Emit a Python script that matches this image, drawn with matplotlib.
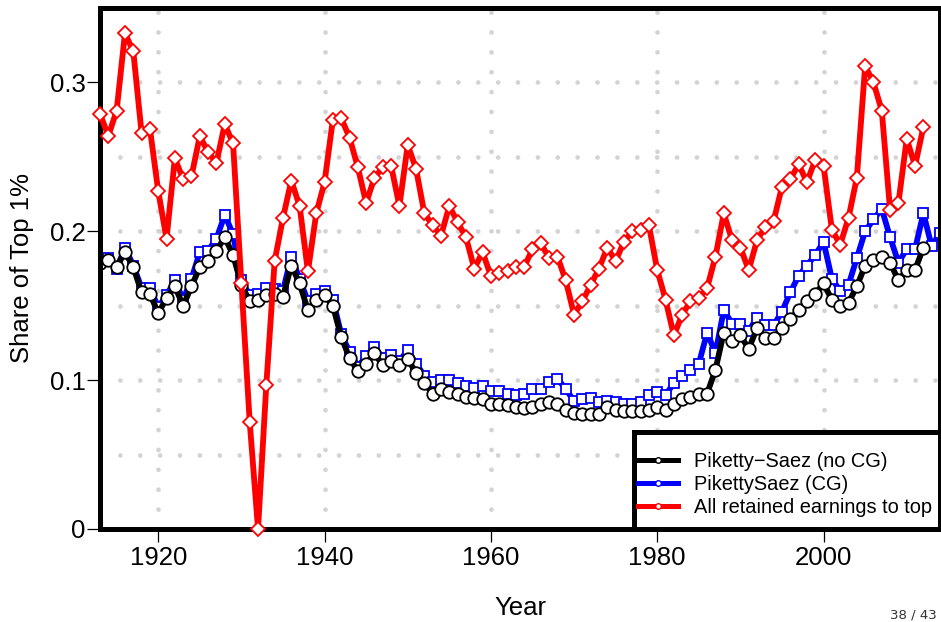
import numpy as np
import matplotlib
matplotlib.use("Agg")
import matplotlib.pyplot as plt
from matplotlib.lines import Line2D
from matplotlib.patches import Rectangle

plt.rcParams['font.family'] = ['Liberation Sans', 'DejaVu Sans']

# share of top 1%, by year
years = list(range(1913, 2013))
years_cg = list(range(1913, 2015))

ps_nocg = [0.179, 0.181, 0.176, 0.186, 0.176, 0.159, 0.158, 0.145, 0.155, 0.163,
           0.150, 0.163, 0.176, 0.180, 0.187, 0.196, 0.184, 0.164, 0.153, 0.154,
           0.157, 0.158, 0.156, 0.177, 0.165, 0.147, 0.154, 0.157, 0.150, 0.129,
           0.115, 0.106, 0.111, 0.118, 0.110, 0.113, 0.110, 0.114, 0.105, 0.098,
           0.091, 0.094, 0.092, 0.091, 0.089, 0.088, 0.087, 0.084, 0.084, 0.083,
           0.082, 0.081, 0.082, 0.084, 0.085, 0.084, 0.080, 0.078, 0.077, 0.077,
           0.077, 0.082, 0.080, 0.079, 0.079, 0.079, 0.080, 0.082, 0.080, 0.084,
           0.087, 0.089, 0.091, 0.091, 0.107, 0.132, 0.126, 0.130, 0.121, 0.135,
           0.128, 0.128, 0.135, 0.141, 0.147, 0.153, 0.158, 0.165, 0.154, 0.150,
           0.152, 0.163, 0.177, 0.181, 0.183, 0.179, 0.167, 0.174, 0.174, 0.189]

ps_cg = [0.180, 0.182, 0.175, 0.189, 0.177, 0.162, 0.162, 0.149, 0.157, 0.167,
         0.154, 0.168, 0.186, 0.187, 0.195, 0.211, 0.198, 0.167, 0.157, 0.158,
         0.162, 0.161, 0.160, 0.183, 0.168, 0.153, 0.158, 0.160, 0.154, 0.131,
         0.119, 0.109, 0.116, 0.122, 0.115, 0.117, 0.113, 0.120, 0.111, 0.103,
         0.099, 0.100, 0.100, 0.098, 0.096, 0.095, 0.096, 0.093, 0.093, 0.091,
         0.090, 0.091, 0.094, 0.094, 0.099, 0.101, 0.094, 0.086, 0.087, 0.088,
         0.085, 0.086, 0.085, 0.084, 0.084, 0.085, 0.090, 0.092, 0.090, 0.098,
         0.103, 0.107, 0.111, 0.132, 0.118, 0.147, 0.138, 0.138, 0.133, 0.142,
         0.137, 0.137, 0.146, 0.159, 0.170, 0.177, 0.184, 0.193, 0.168, 0.160,
         0.164, 0.182, 0.200, 0.208, 0.215, 0.196, 0.179, 0.188, 0.188, 0.212,
         0.190, 0.199]

retained = [0.279, 0.264, 0.281, 0.333, 0.321, 0.266, 0.269, 0.227, 0.195, 0.249,
            0.235, 0.237, 0.264, 0.253, 0.246, 0.272, 0.259, 0.165, 0.072, 0.000,
            0.097, 0.180, 0.209, 0.234, 0.217, 0.173, 0.212, 0.233, 0.275, 0.276,
            0.263, 0.243, 0.219, 0.236, 0.243, 0.244, 0.217, 0.258, 0.242, 0.212,
            0.204, 0.197, 0.217, 0.206, 0.196, 0.175, 0.186, 0.170, 0.172, 0.173,
            0.176, 0.176, 0.188, 0.192, 0.182, 0.183, 0.167, 0.144, 0.153, 0.164,
            0.175, 0.189, 0.180, 0.193, 0.200, 0.201, 0.204, 0.174, 0.154, 0.130,
            0.144, 0.153, 0.155, 0.162, 0.183, 0.212, 0.194, 0.189, 0.174, 0.194,
            0.203, 0.207, 0.230, 0.235, 0.245, 0.233, 0.248, 0.244, 0.201, 0.191,
            0.209, 0.236, 0.311, 0.300, 0.281, 0.214, 0.219, 0.262, 0.244, 0.270]

labels = ["Piketty\u2212Saez (no CG)", "PikettySaez (CG)", "All retained earnings to top"]
xticks = [1920, 1940, 1960, 1980, 2000]
yticks = [0, 0.1, 0.2, 0.3]
ytick_labels = ["0", "0.1", "0.2", "0.3"]

fig = plt.figure(figsize=(9.41, 6.22), dpi=100)
ax = fig.add_axes([100 / 941, 1 - 529 / 622, 840 / 941, 521 / 622])
ax.set_xlim(1913, 2014)
ax.set_ylim(0, 0.35)

# dotted grid, like R's grid(NULL, 7)
dots = dict(color='#d3d3d3', lw=3.4, linestyle=(0, (0.01, 4.2)),
            dash_capstyle='round', zorder=1)
for gx in xticks:
    ax.axvline(gx, **dots)
for gy in np.arange(0.05, 0.35, 0.05):
    ax.axhline(gy, **dots)

ax.plot(years_cg, ps_cg, color='blue', lw=4.2, marker='s', ms=7.8,
        mfc='white', mec='blue', mew=1.3, zorder=3)
ax.plot(years, ps_nocg, color='black', lw=4.2, marker='o', ms=9,
        mfc='white', mec='black', mew=1.3, zorder=4)
ax.plot(years, retained, color='red', lw=4.2, marker='D', ms=7.4,
        mfc='white', mec='red', mew=1.3, zorder=5, clip_on=False)

for s in ax.spines.values():
    s.set_linewidth(3.6)
    s.set_zorder(4.5)

ax.set_xticks(xticks)
ax.set_xticklabels([str(t) for t in xticks])
ax.set_yticks(yticks)
ax.set_yticklabels(ytick_labels)
ax.tick_params(axis='both', direction='out', length=9.5, width=0.9,
               labelsize=18.5, color='black')
ax.tick_params(axis='x', pad=3)
ax.tick_params(axis='y', pad=1)

fig.text(520 / 941, 1 - 608 / 622, "Year", fontsize=18.5, ha='center', va='center')
fig.text(22 / 941, 1 - 268 / 622, "Share of Top 1%", fontsize=18.5,
         rotation=90, ha='center', va='center')

# legend box drawn by hand so the padding matches
box = Rectangle(((634 - 100) / 840, 0), (940 - 634) / 840, (529 - 432) / 521,
                transform=ax.transAxes, facecolor='white', edgecolor='black',
                lw=3.6, zorder=9, clip_on=False)
ax.add_patch(box)

handles = [Line2D([], [], color=c, lw=3.6, marker='o', ms=4, mfc='white',
                  mec=c, mew=1) for c in ['black', 'blue', 'red']]
leg = ax.legend(handles, labels, loc='upper left',
                bbox_to_anchor=((638 - 100) / 840, (529 - 452) / 521),
                borderaxespad=0, fontsize=14.4, frameon=False,
                handlelength=2.0, handletextpad=0.8, labelspacing=0.2,
                borderpad=0, numpoints=1)
leg.set_zorder(10)

fig.text(937 / 941, 1 - 618 / 622, "38 / 43", fontsize=9.6, ha='right',
         va='baseline', color='#333333', family='DejaVu Sans')

fig.savefig("out.png", dpi=100)
